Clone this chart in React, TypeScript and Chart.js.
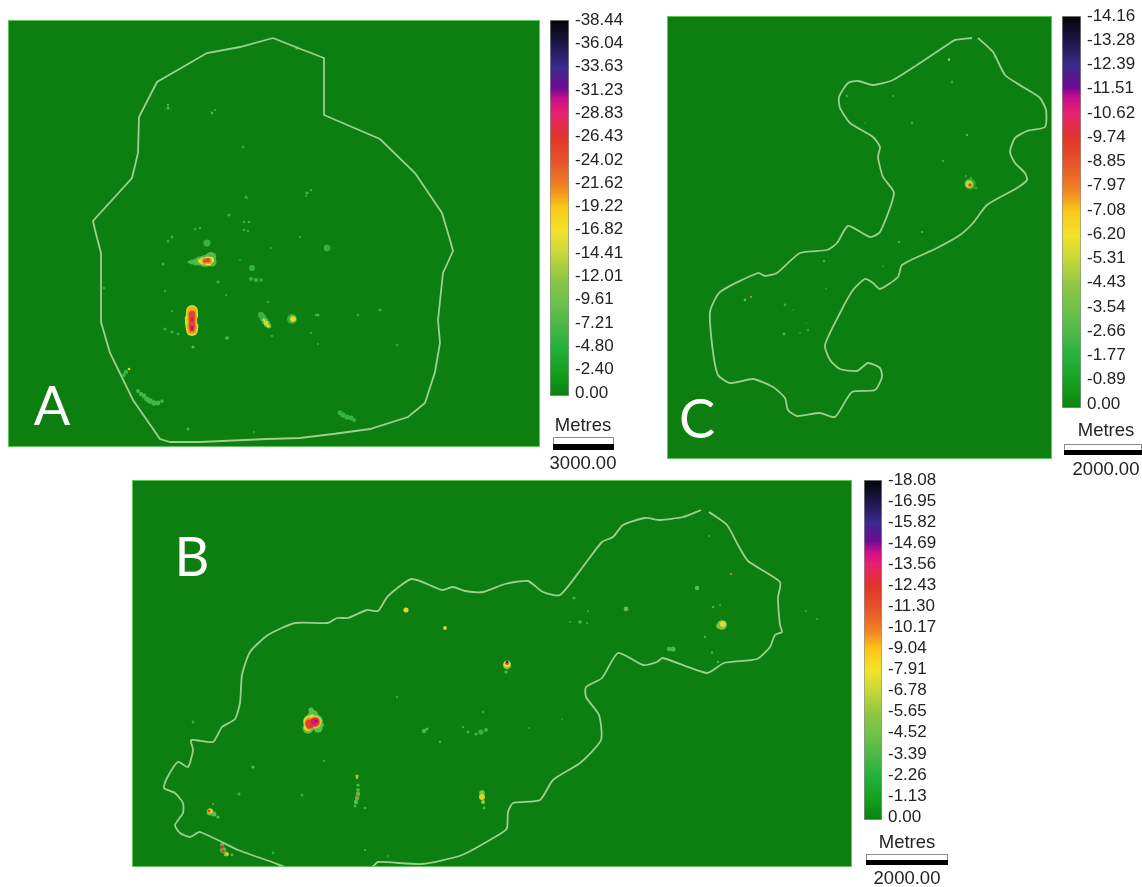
import React, { useEffect, useRef } from "react";
import { Chart, registerables } from "chart.js";

Chart.register(...registerables);

type Row = number[];

// ---- Depth colour ramp (fraction of the scale maximum, colour) ----
const rampFractions = [0, 0.06, 0.125, 0.19, 0.25, 0.31, 0.375, 0.44, 0.5, 0.56, 0.625, 0.69, 0.75, 0.79, 0.82, 0.875, 0.94, 1];
const rampColors = ["#0a8210", "#149e1c", "#22b03a", "#4cb848", "#6cc24a", "#8cc644", "#c4d63a", "#f2e32c", "#fbc818", "#f08022", "#e5532a", "#e03428", "#e6226e", "#c80f8c", "#6c0c92", "#3a2a8c", "#1a1646", "#040406"];

// ---- Colour bar tick labels ----
const ticksA = [-38.44, -36.04, -33.63, -31.23, -28.83, -26.43, -24.02, -21.62, -19.22, -16.82, -14.41, -12.01, -9.61, -7.21, -4.8, -2.4, 0];
const ticksB = [-18.08, -16.95, -15.82, -14.69, -13.56, -12.43, -11.3, -10.17, -9.04, -7.91, -6.78, -5.65, -4.52, -3.39, -2.26, -1.13, 0];
const ticksC = [-14.16, -13.28, -12.39, -11.51, -10.62, -9.74, -8.85, -7.97, -7.08, -6.2, -5.31, -4.43, -3.54, -2.66, -1.77, -0.89, 0];

// ---- Site boundaries (map x, map y) ----
const boundaryA: Row[] = [[273,38],[298,48],[324,58],[324,115],[380,139],[415,173],[442,213],[450,240],[453,251],[443,273],[438,320],[440,343],[435,372],[425,403],[408,417],[370,429],[333,434],[300,438],[267,439],[200,442],[170,442],[160,439],[133,400],[110,353],[101,322],[101,253],[95,230],[93,221],[132,178],[138,153],[139,117],[157,82],[207,53],[240,47],[273,38]];
const boundaryB: Row[] = [[709,512],[727,525],[738,545],[748,561],[780,582],[778,598],[780,625],[782,632],[775,635],[770,647],[757,659],[724,663],[707,673],[663,658],[657,662],[643,665],[618,653],[602,678],[586,687],[586,697],[599,715],[601,740],[580,763],[553,780],[540,800],[513,803],[508,812],[507,828],[500,834],[462,855],[422,864],[378,862],[372,867],[342,869],[292,869],[272,862],[238,850],[200,832],[190,837],[180,833],[175,825],[183,813],[183,803],[175,793],[164,788],[167,778],[178,762],[188,767],[193,750],[191,740],[213,742],[222,727],[235,719],[240,703],[242,675],[250,652],[268,635],[295,623],[328,623],[337,618],[348,618],[367,610],[378,611],[388,596],[412,579],[442,590],[453,587],[465,591],[483,592],[505,584],[528,581],[543,592],[560,595],[582,568],[602,542],[613,537],[623,525],[645,518],[660,520],[683,517],[701,510]];
const boundaryC: Row[] = [[978,38],[993,52],[1005,75],[1023,87],[1040,98],[1046,110],[1045,127],[1027,131],[1015,138],[1010,152],[1015,163],[1025,173],[1027,180],[1017,188],[987,205],[973,223],[960,235],[937,248],[902,265],[898,277],[880,289],[873,283],[865,279],[853,290],[840,313],[825,345],[830,360],[840,369],[857,371],[868,363],[880,368],[882,377],[875,390],[852,392],[835,417],[820,413],[797,416],[788,410],[785,398],[773,387],[753,379],[730,383],[718,375],[713,352],[710,312],[720,292],[758,273],[765,276],[777,273],[800,253],[827,250],[837,243],[848,226],[870,237],[880,232],[894,193],[883,177],[878,157],[880,147],[873,137],[850,123],[840,108],[839,97],[848,83],[858,81],[873,85],[893,80],[917,65],[950,43],[955,40],[972,38]];

// ---- Subsidence spots (map x, map y, radius, depth in metres) ----
const spotsA: Row[] = [
  [189,262,1.5,-7],[192,262,2.5,-7],[196,262,3.5,-7],[200,261,4.5,-8],[205,261,6,-8],[209,260,6.5,-8],[211,257,5,-8],[212,262,4.5,-8],
  [200,261,2,-16],[203,261,3.5,-16],[208,261,4.5,-17],[211,260,3,-17],[205,261,3,-21],[209,261,3,-21],[205,261,1.8,-25],[208,260,2.2,-25],
  [192,311,6,-15],[192,315,6.2,-15],[191,319,6.2,-15],[191,323,6.2,-15],[192,327,6.5,-15],[192,330,6,-15],
  [192,311,4.6,-20],[192,315,4.6,-21],[192,319,4.6,-21],[192,323,4.4,-21],[192,327,4.8,-21],[192,330,4,-21],
  [192,314,3.2,-25],[192,318,3.3,-25],[192,322,3,-25],[192,326,3.2,-25],[192,329,2.8,-25],
  [192,318,1.4,-29],[192,320,1.4,-29],[192,327,1.6,-30],[192,329,1.3,-30],[192,320,0.8,-32],[192,328,0.8,-32],
  [261,315,3.2,-6],[263,318,3.4,-6],[265,321,3.4,-7],[267,324,3.2,-8],[269,326,2.4,-9],[264,320,1.8,-14],[266,323,2.4,-15],[268,326,1.6,-18],
  [292,319,5,-6],[293,319,3,-15],[293,319,1.5,-18],
  [207,243,3.6,-6],[252,268,3,-6],[251,279,2,-6],[256,280,2.2,-6],[261,280,1.8,-6],[327,248,3.2,-6],[126,372,2.2,-6],[124,375,2,-6],[129,369,1.3,-15],
  [138,391,2,-7],[141,394,2.2,-7],[144,396,2.4,-7],[147,399,2.6,-7],[150,401,2.8,-7],[154,403,2.8,-7],[158,403,2.4,-7],[162,401,1.8,-7],
  [340,413,2.4,-6],[343,415,2.6,-6],[347,417,2.6,-6],[351,418,2.4,-6],[354,420,2,-6],[380,310,1.6,-5],[397,345,1.6,-4],[358,315,1.5,-5],
  [168,108,1.6,-7],[168,105,1.2,-7],[212,113,1.4,-7],[215,110,1,-7],[297,48,1.8,-7],[243,147,1.4,-5],[307,193,1.6,-7],[311,190,1.2,-6],[306,196,1,-6],
  [246,197,1.4,-6],[229,215,1.6,-6],[247,198,1,-5],[244,222,1.3,-6],[249,222,1.3,-6],[244,230,1.3,-6],[248,231,1.3,-6],[195,229,1.2,-6],[200,228,1.2,-6],[172,237,1.5,-6],[168,241,1.5,-6],
  [163,264,1.5,-6],[218,282,1.6,-6],[172,311,1.2,-5],[165,329,1.5,-6],[172,332,1.5,-6],[178,334,1.3,-6],[193,347,1.6,-8],[227,338,1.8,-8],[268,302,1.3,-5],[272,336,1.3,-5],[318,315,1.5,-7],[104,288,1.5,-5],[188,429,1.6,-7],[254,432,1.2,-5],[316,315,1.2,-6],[311,333,1.2,-5],[318,344,1.2,-5],[226,295,1.2,-5],[165,291,1.2,-5],[300,237,1.2,-5],[271,248,1.2,-5],[215,254,1,-5],[240,260,1,-5]
];
const spotsB: Row[] = [
  [311,710,2.5,-4],[313,715,5,-4],[311,722,8,-4],[315,722,8,-4],[308,728,5.5,-4],[318,728,4.5,-4],[322,725,2,-4],
  [312,718,3.5,-7.5],[310,722,6.5,-7.5],[315,722,6.5,-7.5],[308,727,4,-7.5],[310,723,5.5,-10],[315,722,5.5,-10],[309,727,3,-10],
  [310,724,4.5,-12],[315,722,4.5,-12],[314,722,3.2,-14],[316,721,2.5,-14],[316,721,1,-15],
  [406,610,2.6,-7],[406,610,1.4,-8.5],[445,628,2,-6.5],[445,628,1,-8],
  [507,665,4.2,-5],[506,672,1.8,-3],[507,664,3.2,-8],[507,663,2,-12],[507,662,1.2,-15],
  [722,625,4.8,-5],[719,626,2.8,-5],[723,624,3,-7.5],[724,623,1.8,-9],
  [673,649,2.6,-3.5],[669,649,2.2,-3.5],[626,609,2.4,-4],[626,609,1,-5],[697,588,2.2,-4],[574,598,1.6,-3],[580,622,1.8,-3.5],[570,622,1,-3],[588,611,1,-3],[587,623,1,-3],[720,605,1,-3],[713,607,1.3,-3],[705,637,1.3,-3],[712,652,1,-3],[712,653,1,-3],[718,662,1.2,-3],[731,574,1,-10],[709,536,1,-3],[806,611,1,-2.5],[817,619,1,-2.5],
  [210,812,3.5,-4],[214,814,2.5,-4],[218,817,1.6,-4],[210,811,2.6,-9],[209,811,1.6,-12],[213,804,1,-3],
  [222,845,2,-4],[223,850,3,-4],[226,854,2.5,-4],[232,855,1.4,-3.5],[222,847,1.7,-12],[223,851,1.6,-12],[227,854,1.7,-9],[222,847,1,-14],
  [357,776,1.6,-6],[357,778,1,-9],[358,785,1.6,-3.5],[358,790,1.9,-3.5],[358,794,2.2,-4],[357,798,2.2,-4],[356,802,2.2,-4],[355,806,1.4,-3.5],[358,796,1.3,-11],
  [482,793,2.8,-5],[482,797,3,-7],[483,802,2,-6],[484,808,1.4,-4],[482,797,1.8,-9],
  [424,731,2.2,-3.5],[427,729,1.6,-3.5],[481,732,2.6,-3],[486,730,2,-3],[476,734,1.6,-3],[468,732,1.4,-3],[463,727,1.2,-3],[440,742,1.4,-3],[193,722,1.4,-2.5],[253,767,1.6,-4],[239,794,1.6,-3],[302,795,1.6,-2.5],[324,761,1.2,-2.5],[397,697,1.2,-2.5],[365,850,1.2,-2.5],[273,853,1.4,-2.5],[388,856,1,-2.5],[483,712,1.2,-2.5],[529,728,1,-2.5],[562,719,0.9,-2.5],[365,808,1.2,-3]
];
const spotsC: Row[] = [
  [970,184,5.6,-1.9],[966,176,1.2,-1.9],[971,178,1.2,-1.9],[976,188,1.6,-1.9],[969,184,3.8,-5],[970,185,2.8,-7],[970,185,1.7,-9.4],
  [949,60,1.2,-4],[949,59,0.8,-6],[952,82,1.6,-2],[995,57,1.4,-1.8],[847,96,1.2,-2],[893,96,1.3,-1.5],[912,123,1.4,-2],[967,135,1.2,-3],[943,161,1.3,-2],[922,232,1.1,-3.2],[865,123,0.9,-1.2],[899,242,1.3,-2.5],[824,261,1.3,-2.4],[883,266,1,-1.6],[826,289,1,-1.8],[745,300,1.4,-3],[751,297,1,-7.8],[785,305,1.4,-2],[793,310,0.9,-1.2],[784,334,1.6,-2.5],[800,333,1.1,-1.5],[808,330,1.3,-1.8],[806,323,0.8,-1.2]
];

const panelAreas: Row[] = [[8, 20, 532, 427], [132, 480, 720, 387], [667, 16, 385, 443]];

const panelBackground = "#0c7f10";
const panelEdge = "#63c463";
const boundaryColor = "#9dcf8f";
const textColor = "#232323";

function hexToRgb(h: string) {
  return [1, 3, 5].map((i) => parseInt(h.slice(i, i + 2), 16));
}

function rampColor(f: number) {
  const v = Math.min(1, Math.max(0, f));
  let i = 0;
  while (i < rampFractions.length - 2 && rampFractions[i + 1] < v) i++;
  const t = (v - rampFractions[i]) / (rampFractions[i + 1] - rampFractions[i]);
  const a = hexToRgb(rampColors[i]);
  const b = hexToRgb(rampColors[i + 1]);
  const c = a.map((x, k) => Math.round(x + (b[k] - x) * Math.min(1, t)));
  return `rgb(${c[0]},${c[1]},${c[2]})`;
}

const panelPlugin = {
  id: "panelPlugin",
  beforeDraw(chart: any) {
    const { ctx, chartArea: a } = chart;
    ctx.save();
    ctx.fillStyle = panelBackground;
    ctx.fillRect(a.left, a.top, a.right - a.left, a.bottom - a.top);
    ctx.restore();
  },
  afterDraw(chart: any) {
    const { ctx, chartArea: a } = chart;
    ctx.save();
    ctx.strokeStyle = panelEdge;
    ctx.lineWidth = 1;
    ctx.strokeRect(a.left + 0.5, a.top + 0.5, a.right - a.left - 1, a.bottom - a.top - 1);
    ctx.restore();
  },
};

function MapPanel({ area, boundary, spots, maxDepth, tension }: { area: Row; boundary: Row[]; spots: Row[]; maxDepth: number; tension: number }) {
  const ref = useRef<HTMLCanvasElement>(null);
  useEffect(() => {
    const sorted = [...spots].sort((p, q) => q[3] - p[3]);
    const chart = new Chart(ref.current as HTMLCanvasElement, {
      type: "scatter",
      data: {
        datasets: [
          {
            label: "Boundary",
            data: boundary.map(([x, y]) => ({ x, y })),
            showLine: true,
            borderColor: boundaryColor,
            borderWidth: 1.8,
            pointRadius: 0,
            tension,
            order: 1,
          },
          {
            label: "Subsidence",
            data: sorted.map(([x, y, r, d]) => ({ x, y, r, d })),
            pointRadius: (c: any) => c.raw?.r ?? 1,
            pointBackgroundColor: (c: any) => rampColor(Math.abs(c.raw?.d ?? 0) / maxDepth),
            pointBorderWidth: 0,
            showLine: false,
            order: 2,
          },
        ],
      } as any,
      options: {
        animation: false,
        responsive: false,
        events: [],
        layout: { padding: 0, autoPadding: false },
        plugins: { legend: { display: false }, tooltip: { enabled: false } },
        scales: {
          x: { type: "linear", display: false, min: area[0], max: area[0] + area[2] },
          y: { type: "linear", display: false, reverse: true, min: area[1], max: area[1] + area[3] },
        },
      },
      plugins: [panelPlugin],
    } as any);
    return () => chart.destroy();
  }, []);
  return <canvas ref={ref} width={area[2]} height={area[3]} style={{ position: "absolute", left: area[0], top: area[1], display: "block" }} />;
}

function ColorBar({ left, top, barWidth, barHeight, ticks, overshoot }: { left: number; top: number; barWidth: number; barHeight: number; ticks: number[]; overshoot: number }) {
  const ref = useRef<HTMLCanvasElement>(null);
  const pad = 24;
  const axisWidth = 64;
  useEffect(() => {
    const chart = new Chart(ref.current as HTMLCanvasElement, {
      type: "bar",
      data: {
        labels: [""],
        datasets: [
          {
            label: "Depth",
            data: [[ticks[0], overshoot]],
            barPercentage: 1,
            categoryPercentage: 1,
            borderWidth: 1,
            borderColor: "#8c938c",
            borderSkipped: false,
            backgroundColor: (c: any) => {
              const a = c.chart.chartArea;
              if (!a) return rampColors[0];
              const g = c.chart.ctx.createLinearGradient(0, a.bottom, 0, a.top);
              rampFractions.forEach((f, i) => g.addColorStop(f, rampColors[i]));
              return g;
            },
          },
        ],
      } as any,
      options: {
        animation: false,
        responsive: false,
        events: [],
        layout: { padding: { top: pad, bottom: pad, left: 0, right: 0 }, autoPadding: false },
        plugins: { legend: { display: false }, tooltip: { enabled: false } },
        scales: {
          x: { display: false },
          y: {
            type: "linear",
            position: "right",
            reverse: true,
            min: ticks[0],
            max: overshoot,
            grid: { display: false, drawTicks: false },
            border: { display: false },
            afterBuildTicks: (s: any) => {
              s.ticks = ticks.map((value) => ({ value }));
            },
            afterFit: (s: any) => {
              s.width = axisWidth;
            },
            ticks: {
              autoSkip: false,
              padding: 6,
              color: textColor,
              font: { family: "'Liberation Sans', Arial, sans-serif", size: 17 },
              callback: (v: any) => Number(v).toFixed(2),
            },
          },
        },
      },
    } as any);
    return () => chart.destroy();
  }, []);
  return <canvas ref={ref} width={barWidth + axisWidth} height={barHeight + pad * 2} style={{ position: "absolute", left, top: top - pad, display: "block" }} />;
}

function Label({ text, x, y, size, font, color, align }: { text: string; x: number; y: number; size: number; font: string; color: string; align?: string }) {
  return (
    <div style={{ position: "absolute", left: x - 100, top: y - 50, width: 200, height: 100, lineHeight: "100px", textAlign: (align ?? "center") as any, fontFamily: font, fontSize: size, color, whiteSpace: "nowrap" }}>
      {text}
    </div>
  );
}

function ScaleBar({ x, y, w, h, distance, unitY, distY, cx }: { x: number; y: number; w: number; h: number; distance: string; unitY: number; distY: number; cx: number }) {
  const font = "'Liberation Sans', Arial, sans-serif";
  return (
    <>
      <Label text="Metres" x={cx} y={unitY} size={18.5} font={font} color={textColor} />
      <div style={{ position: "absolute", left: x, top: y, width: w - 2, height: h / 2 - 1, background: "#fff", border: "1px solid #8c8c8c" }} />
      <div style={{ position: "absolute", left: x, top: y + h / 2, width: w, height: h / 2, background: "#000" }} />
      <Label text={distance} x={cx} y={distY} size={18.5} font={font} color={textColor} />
    </>
  );
}

export default function App() {
  const letterFont = "Lato, 'Open Sans', sans-serif";
  return (
    <div style={{ position: "fixed", left: 0, top: 0, width: 1142, height: 887, overflow: "hidden", background: "#fff", filter: "blur(0.45px)" }}>
      <MapPanel area={panelAreas[0]} boundary={boundaryA} spots={spotsA} maxDepth={38.44} tension={0} />
      <MapPanel area={panelAreas[1]} boundary={boundaryB} spots={spotsB} maxDepth={18.08} tension={0.2} />
      <MapPanel area={panelAreas[2]} boundary={boundaryC} spots={spotsC} maxDepth={14.16} tension={0.2} />
      <ColorBar left={550} top={20} barWidth={19} barHeight={376} ticks={ticksA} overshoot={0.31} />
      <ColorBar left={864} top={480} barWidth={18} barHeight={340} ticks={ticksB} overshoot={0.16} />
      <ColorBar left={1062} top={16} barWidth={19} barHeight={392} ticks={ticksC} overshoot={0.146} />
      <Label text="A" x={52} y={405} size={54} font={letterFont} color="#ffffff" />
      <Label text="B" x={192} y={556} size={54} font={letterFont} color="#ffffff" />
      <Label text="C" x={697} y={418} size={54} font={letterFont} color="#ffffff" />
      <ScaleBar x={553} y={437} w={61} h={13} distance="3000.00" unitY={425} distY={463} cx={583} />
      <ScaleBar x={866} y={854} w={82} h={11} distance="2000.00" unitY={842} distY={878} cx={907} />
      <ScaleBar x={1064} y={444} w={78} h={11} distance="2000.00" unitY={430} distY={469} cx={1106} />
    </div>
  );
}
